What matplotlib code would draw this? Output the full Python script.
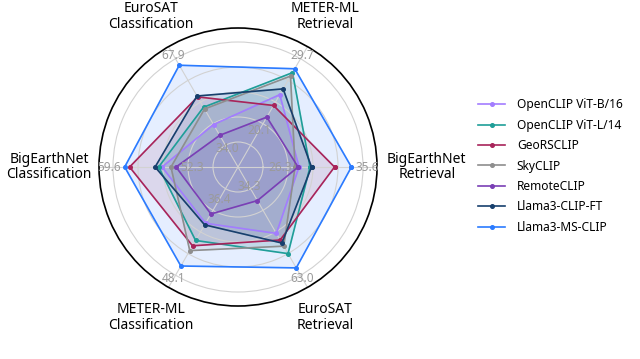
import numpy as np
import matplotlib
matplotlib.use("Agg")
import matplotlib.pyplot as plt

plt.rcParams["font.family"] = ["Noto Sans", "DejaVu Sans"]

# --------------------

# axes go counter-clockwise starting at 3 o'clock
axis_names = ["BigEarthNet\nRetrieval", "METER-ML\nRetrieval", "EuroSAT\nClassification",
              "BigEarthNet\nClassification", "METER-ML\nClassification", "EuroSAT\nRetrieval"]
axis_low = [26.3, 20.1, 34.0, 52.3, 36.4, 34.3]
axis_high = [35.6, 29.7, 67.9, 59.6, 48.1, 63.0]

models = ["OpenCLIP ViT-B/16", "OpenCLIP ViT-L/14", "GeoRSCLIP", "SkyCLIP",
          "RemoteCLIP", "Llama3-CLIP-FT", "Llama3-MS-CLIP"]
colors = ["#a37dff", "#1f9e98", "#a8245a", "#8e8e8e", "#7a3fb5", "#173f6d", "#2b7bff"]

openclip_b16 = [29.65, 25.72, 42.14, 56.02, 41.08, 49.14]
openclip_l14 = [30.67, 28.16, 48.92, 56.27, 43.40, 55.83]
georsclip = [32.95, 24.52, 52.98, 58.39, 44.12, 51.32]
skyclip = [29.28, 27.78, 48.24, 55.37, 44.77, 53.36]
remoteclip = [29.56, 23.23, 37.93, 55.00, 39.82, 38.26]
llama3_clip_ft = [30.81, 26.36, 53.32, 56.53, 41.29, 52.32]
llama3_ms_clip = [34.52, 28.59, 65.36, 58.75, 46.85, 60.56]

scores = [openclip_b16, openclip_l14, georsclip, skyclip, remoteclip, llama3_clip_ft, llama3_ms_clip]

# --------------------

def scale(vals):
    # low label sits on ring 0.2, high label on ring 1.0
    lo = np.array(axis_low)
    hi = np.array(axis_high)
    return 0.2 + 0.8 * (np.array(vals) - lo) / (hi - lo)

angles = np.deg2rad(np.arange(0, 360, 60))
closed = np.append(angles, angles[0])

fig = plt.figure(figsize = (6.4, 3.59), dpi = 100)
ax = fig.add_axes([0.1547, 0.1476, 0.4344, 0.7744], projection = "polar")

handles = []
for name, vals, c in zip(models, scores, colors):
    r = scale(vals)
    r = np.append(r, r[0])
    h, = ax.plot(closed, r, color = c, linewidth = 1.2, marker = "o", markersize = 2.6, label = name)
    ax.fill(closed, r, color = c, alpha = 0.12)
    handles.append(h)

ax.set_ylim(0, 1.112)
ax.set_yticks([0.2, 0.4, 0.6, 0.8, 1.0])
ax.set_yticklabels([])
ax.set_xticks(angles)
ax.set_xticklabels([])
ax.grid(color = "#d2d2d2", linewidth = 0.8)
ax.spines["polar"].set_color("black")
ax.spines["polar"].set_linewidth(1.2)

# axis names outside the circle
name_r = [1.51, 1.39, 1.39, 1.51, 1.39, 1.39]
for a, n, rr in zip(angles, axis_names, name_r):
    ax.text(a, rr, n, ha = "center", va = "center", fontsize = 10, linespacing = 1.08)

# scale labels on each spoke
low_r = [0.34, 0.34, 0.17, 0.37, 0.30, 0.18]
for a, lo, hi, rr in zip(angles, axis_low, axis_high, low_r):
    ax.text(a, rr, f"{lo:.1f}", ha = "center", va = "center", fontsize = 8.5, color = "#9a9a9a", zorder = 5)
    ax.text(a, 1.03, f"{hi:.1f}", ha = "center", va = "center", fontsize = 8.5, color = "#9a9a9a", zorder = 5)

fig.legend(handles = handles, loc = "center left", bbox_to_anchor = (0.73, 0.5376),
           frameon = False, fontsize = 8.6, handlelength = 2.3, handletextpad = 0.95,
           labelspacing = 0.62)

plt.savefig("out.png", dpi = 100)
